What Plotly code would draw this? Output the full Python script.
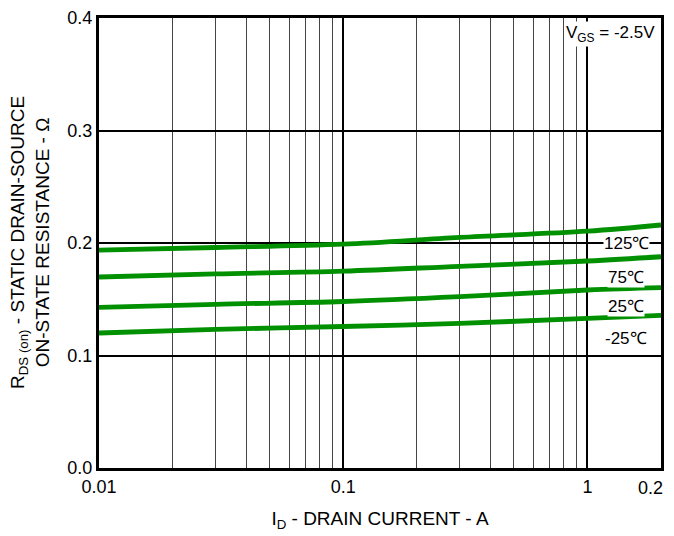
import plotly.graph_objects as go

# Data
current_A = [0.01, 0.03, 0.1, 0.3, 1.0, 2.0]
r_125 = [0.1936, 0.1960, 0.1990, 0.2050, 0.2105, 0.2160]
r_75 = [0.1698, 0.1725, 0.1750, 0.1793, 0.1840, 0.1878]
r_25 = [0.1428, 0.1455, 0.1480, 0.1523, 0.1582, 0.1603]
r_m25 = [0.1200, 0.1232, 0.1258, 0.1286, 0.1330, 0.1357]

series_names = ["125℃", "75℃", "25℃", "-25℃"]
series_vals = [r_125, r_75, r_25, r_m25]
label_y = [0.2000, 0.1690, 0.1440, 0.1155]

x_tickvals = [0.01, 0.1, 1, 2]
x_ticktext = ["0.01", "0.1", "1", ""]
x_end_label = "0.2"
x_minor = [0.02, 0.03, 0.04, 0.05, 0.06, 0.07, 0.08, 0.09,
           0.2, 0.3, 0.4, 0.5, 0.6, 0.7, 0.8, 0.9]
y_tickvals = [0.0, 0.1, 0.2, 0.3, 0.4]

FONT = "Liberation Sans, Arial, sans-serif"
GREEN = "#009000"
OFF = 8  # browser body margin
W, H = 674 - OFF, 536 - OFF
L, T = 99 - OFF, 18 - OFF
R = W - (661 - OFF)
B = H - (468 - OFF)
PW = W - L - R

fig = go.Figure()
for name, vals in zip(series_names, series_vals):
    fig.add_trace(go.Scatter(x=current_A, y=vals, mode="lines", name=name,
                             line=dict(color=GREEN, width=4.8, shape="spline"),
                             showlegend=False, hoverinfo="skip"))

for name, ylab in zip(series_names, label_y):
    fig.add_annotation(x=(626 - OFF - L) / PW, y=ylab, xref="paper", yref="y",
                       text=name, showarrow=False, bgcolor="white",
                       borderpad=0,
                       font=dict(family=FONT, size=17, color="black"),
                       xanchor="center", yanchor="middle")

fig.add_annotation(x=(610 - OFF - L) / PW, y=0.4, xref="paper", yref="y",
                   text="V<sub>GS</sub> = -2.5V", showarrow=False,
                   bgcolor="white", xanchor="center", yanchor="top", yshift=-3,
                   font=dict(family=FONT, size=17, color="black"))

fig.add_annotation(x=1, y=0, xref="paper", yref="paper",
                   text=x_end_label, showarrow=False,
                   xanchor="right", yanchor="top", xshift=4, yshift=-8,
                   font=dict(family=FONT, size=18, color="black"))

fig.add_annotation(x=-(L - (30 - OFF)) / PW, y=0.5, xref="paper", yref="paper",
                   text="R<sub>DS (on)</sub> - STATIC DRAIN-SOURCE<br>ON-STATE RESISTANCE - Ω",
                   textangle=-90, showarrow=False,
                   xanchor="center", yanchor="middle",
                   font=dict(family=FONT, size=19, color="black"))

fig.update_layout(
    width=W, height=H,
    margin=dict(l=L, r=R, t=T, b=B, autoexpand=False),
    paper_bgcolor="white", plot_bgcolor="white",
    font=dict(family=FONT, size=18, color="black"),
)
fig.update_xaxes(
    type="log", range=[-2, 0.30103], automargin=False,
    tickmode="array", tickvals=x_tickvals, ticktext=x_ticktext,
    showgrid=True, gridcolor="black", gridwidth=1.5,
    minor=dict(tickmode="array", tickvals=x_minor, showgrid=True,
               gridcolor="#444444", gridwidth=1, ticks=""),
    ticks="", showline=True, linecolor="black", linewidth=3, mirror=True,
    tickfont=dict(family=FONT, size=18),
    title=dict(text="I<sub>D</sub> - DRAIN CURRENT - A",
               font=dict(family=FONT, size=19), standoff=17),
    zeroline=False,
)
fig.update_yaxes(
    range=[0, 0.4], tickmode="array", tickvals=y_tickvals, tickformat=".1f",
    automargin=False,
    showgrid=True, gridcolor="black", gridwidth=1.5,
    ticks="", showline=True, linecolor="black", linewidth=3, mirror=True,
    tickfont=dict(family=FONT, size=18), zeroline=False,
)

fig.write_html("out.html")
